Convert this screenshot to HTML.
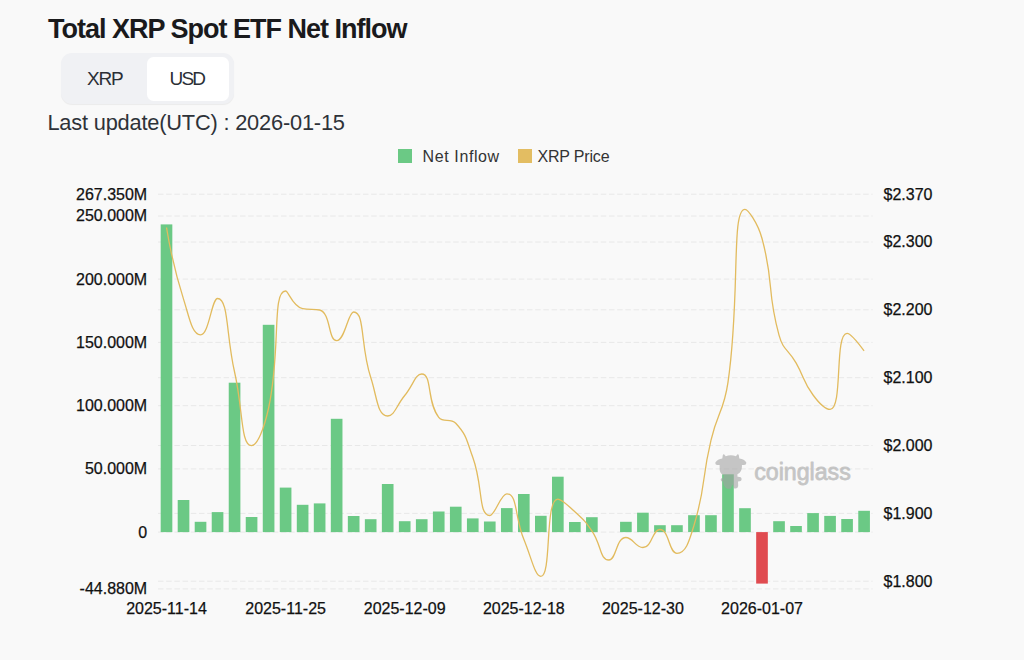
<!DOCTYPE html>
<html><head><meta charset="utf-8">
<style>
html,body{margin:0;padding:0;}
body{width:1024px;height:660px;overflow:hidden;background:#f9f9f9;position:relative;font-family:"Liberation Sans",Arial,sans-serif;}
.title{position:absolute;left:48px;top:11.1px;font-size:27px;font-weight:bold;color:#1a1a1c;white-space:nowrap;line-height:36px;letter-spacing:-1.0px;}
.seg{position:absolute;left:61px;top:53px;width:173px;height:51px;background:#f0f1f4;border-radius:11px;box-shadow:0 1px 1px rgba(0,0,0,0.06);}
.seg .on{position:absolute;left:85.5px;top:4px;width:82.6px;height:44px;background:#fff;border-radius:6.5px;}
.seg span{position:absolute;top:0;line-height:51px;font-size:19px;color:#2b2f36;letter-spacing:-1px;}
.upd{position:absolute;left:47.4px;top:108.7px;font-size:21.8px;color:#2e3238;white-space:nowrap;line-height:28px;letter-spacing:-0.19px;}
.leg{position:absolute;top:146.8px;font-size:16px;color:#333;white-space:nowrap;line-height:20px;}
.sq{position:absolute;top:149px;width:14px;height:14px;}
svg{position:absolute;left:0;top:0;}
</style></head><body>
<div class="title">Total XRP Spot ETF Net Inflow</div>
<div class="seg"><div class="on"></div><span style="left:26px;letter-spacing:-1.2px">XRP</span><span style="left:108.5px;letter-spacing:-1.8px">USD</span></div>
<div class="upd">Last update(UTC) : 2026-01-15</div>
<div class="sq" style="left:398px;background:#6bc985"></div>
<div class="leg" style="left:422.6px;letter-spacing:0.6px">Net Inflow</div>
<div class="sq" style="left:517.5px;background:#e3bd62"></div>
<div class="leg" style="left:537.4px;letter-spacing:-0.17px">XRP Price</div>
<svg width="1024" height="660" viewBox="0 0 1024 660">
<g stroke="#e8e8e8" stroke-width="1" stroke-dasharray="5.5 2.7" fill="none">
<line x1="158" x2="872.6" y1="194.2" y2="194.2"/>
<line x1="158" x2="872.6" y1="216.0" y2="216.0"/>
<line x1="158" x2="872.6" y1="242.0" y2="242.0"/>
<line x1="158" x2="872.6" y1="279.1" y2="279.1"/>
<line x1="158" x2="872.6" y1="309.8" y2="309.8"/>
<line x1="158" x2="872.6" y1="342.4" y2="342.4"/>
<line x1="158" x2="872.6" y1="377.7" y2="377.7"/>
<line x1="158" x2="872.6" y1="405.7" y2="405.7"/>
<line x1="158" x2="872.6" y1="445.5" y2="445.5"/>
<line x1="158" x2="872.6" y1="468.9" y2="468.9"/>
<line x1="158" x2="872.6" y1="513.4" y2="513.4"/>
<line x1="158" x2="872.6" y1="532.1" y2="532.1"/>
<line x1="158" x2="872.6" y1="581.2" y2="581.2"/>
<line x1="158" x2="872.6" y1="588.9" y2="588.9"/>
</g>
<g>
<rect x="160.68" y="224.40" width="11.65" height="307.70" fill="#6bc985"/>
<rect x="177.70" y="500.00" width="11.65" height="32.10" fill="#6bc985"/>
<rect x="194.71" y="521.80" width="11.65" height="10.30" fill="#6bc985"/>
<rect x="211.73" y="512.10" width="11.65" height="20.00" fill="#6bc985"/>
<rect x="228.74" y="382.70" width="11.65" height="149.40" fill="#6bc985"/>
<rect x="245.75" y="517.00" width="11.65" height="15.10" fill="#6bc985"/>
<rect x="262.77" y="324.80" width="11.65" height="207.30" fill="#6bc985"/>
<rect x="279.78" y="487.60" width="11.65" height="44.50" fill="#6bc985"/>
<rect x="296.80" y="504.80" width="11.65" height="27.30" fill="#6bc985"/>
<rect x="313.81" y="503.40" width="11.65" height="28.70" fill="#6bc985"/>
<rect x="330.82" y="418.80" width="11.65" height="113.30" fill="#6bc985"/>
<rect x="347.84" y="516.00" width="11.65" height="16.10" fill="#6bc985"/>
<rect x="364.85" y="519.20" width="11.65" height="12.90" fill="#6bc985"/>
<rect x="381.87" y="484.00" width="11.65" height="48.10" fill="#6bc985"/>
<rect x="398.88" y="521.20" width="11.65" height="10.90" fill="#6bc985"/>
<rect x="415.90" y="519.20" width="11.65" height="12.90" fill="#6bc985"/>
<rect x="432.91" y="511.50" width="11.65" height="20.60" fill="#6bc985"/>
<rect x="449.93" y="506.70" width="11.65" height="25.40" fill="#6bc985"/>
<rect x="466.94" y="518.40" width="11.65" height="13.70" fill="#6bc985"/>
<rect x="483.95" y="521.50" width="11.65" height="10.60" fill="#6bc985"/>
<rect x="500.97" y="508.10" width="11.65" height="24.00" fill="#6bc985"/>
<rect x="517.98" y="494.00" width="11.65" height="38.10" fill="#6bc985"/>
<rect x="535.00" y="515.80" width="11.65" height="16.30" fill="#6bc985"/>
<rect x="552.01" y="476.70" width="11.65" height="55.40" fill="#6bc985"/>
<rect x="569.02" y="522.00" width="11.65" height="10.10" fill="#6bc985"/>
<rect x="586.04" y="517.20" width="11.65" height="14.90" fill="#6bc985"/>
<rect x="620.07" y="521.80" width="11.65" height="10.30" fill="#6bc985"/>
<rect x="637.08" y="512.70" width="11.65" height="19.40" fill="#6bc985"/>
<rect x="654.10" y="525.20" width="11.65" height="6.90" fill="#6bc985"/>
<rect x="671.11" y="525.20" width="11.65" height="6.90" fill="#6bc985"/>
<rect x="688.12" y="515.20" width="11.65" height="16.90" fill="#6bc985"/>
<rect x="705.14" y="515.20" width="11.65" height="16.90" fill="#6bc985"/>
<rect x="722.15" y="474.30" width="11.65" height="57.80" fill="#6bc985"/>
<rect x="739.17" y="508.20" width="11.65" height="23.90" fill="#6bc985"/>
<rect x="756.18" y="532.10" width="11.65" height="51.50" fill="#e04b50"/>
<rect x="773.20" y="521.20" width="11.65" height="10.90" fill="#6bc985"/>
<rect x="790.21" y="526.00" width="11.65" height="6.10" fill="#6bc985"/>
<rect x="807.23" y="513.10" width="11.65" height="19.00" fill="#6bc985"/>
<rect x="824.24" y="515.90" width="11.65" height="16.20" fill="#6bc985"/>
<rect x="841.25" y="519.00" width="11.65" height="13.10" fill="#6bc985"/>
<rect x="858.27" y="510.80" width="11.65" height="21.30" fill="#6bc985"/>
</g>
<path d="M166.51,227.50 C166.51,227.50 172.45,264.20 183.52,299.10 C189.47,317.85 192.09,334.80 200.54,334.80 C209.10,334.80 211.65,298.50 217.55,298.50 C228.66,298.50 226.07,335.25 234.56,372.00 C243.08,408.85 240.58,445.70 251.58,445.70 C257.59,445.70 264.18,428.05 268.59,408.00 C281.20,350.70 271.51,291.00 285.61,291.00 C288.53,291.00 292.60,306.59 302.62,308.60 C309.61,310.00 314.06,308.60 319.64,310.00 C331.07,312.87 327.93,340.60 336.65,340.60 C344.94,340.60 348.04,312.00 353.66,312.00 C365.06,312.00 360.22,345.33 370.68,377.30 C377.23,397.33 377.26,416.00 387.69,416.00 C394.27,416.00 396.32,405.85 404.71,395.50 C413.34,384.85 415.41,374.00 421.72,374.00 C432.43,374.00 426.48,401.83 438.74,417.30 C443.49,423.30 450.27,417.30 455.75,423.30 C467.29,435.94 466.21,439.53 472.76,457.30 C483.22,485.63 478.08,515.50 489.78,515.50 C495.10,515.50 500.62,493.80 506.79,493.80 C517.64,493.80 514.58,516.80 523.81,539.20 C531.59,558.10 535.02,576.40 540.82,576.40 C552.03,576.40 544.41,499.20 557.84,499.20 C561.42,499.20 567.16,504.56 574.85,511.70 C584.17,520.36 584.53,520.40 591.86,530.80 C601.55,544.55 599.60,560.00 608.88,560.00 C616.62,560.00 615.88,537.50 625.89,537.50 C632.90,537.50 635.36,547.50 642.91,547.50 C652.38,547.50 652.12,529.50 659.92,529.50 C669.14,529.50 668.89,553.30 676.94,553.30 C685.90,553.30 689.31,540.91 693.95,525.50 C706.32,484.41 700.93,482.52 710.96,440.30 C717.94,410.92 723.59,412.10 727.98,382.30 C740.60,296.60 730.75,209.30 744.99,209.30 C747.76,209.30 757.65,222.38 762.01,238.50 C774.66,285.33 766.24,288.47 779.02,335.20 C783.25,350.67 788.00,348.78 796.04,362.90 C805.02,378.68 802.51,380.59 813.05,395.00 C819.52,403.84 826.28,409.40 830.06,409.40 C843.30,409.40 834.12,333.30 847.08,333.30 C851.13,333.30 864.09,350.80 864.09,350.80" fill="none" stroke="#e2bb5e" stroke-width="1.3" stroke-linejoin="round"/>
<g opacity="0.6" fill="#a3a3a3">
<path d="M722.3,458.6 L722.8,455.2 Q723.2,453.9 724.3,454.4 L725.7,456.3 Q730.8,454.0 735.9,456.3 L737.3,454.4 Q738.4,453.9 738.8,455.2 L739.3,458.6 Q744.4,459.3 746.3,462.6 Q746.6,465.0 744,465.1 L741.9,465.1 Q742.4,472.2 737.4,474.3 L737.5,476.8 Q741.7,476.6 741.6,479.3 Q741.5,481.4 738,481.6 L738.2,486 Q737.8,488.6 735.4,488.6 L734.3,488.6 L732.4,484.4 L730.7,488.7 L727,488.7 Q724.8,487.6 723.6,484.4 L723.2,481.6 Q720.6,481.6 720.7,479.6 Q720.9,477.7 723.3,478.6 L723.7,475.2 Q720.2,473.8 719.7,470 L719.6,465.1 L717.2,465.1 Q715,464.8 715.4,462.6 Q717.6,459.2 722.3,458.6 Z"/>
<text x="754.2" y="479.5" font-family="Liberation Sans, Arial, sans-serif" font-size="23.5" stroke="#a3a3a3" stroke-width="0.8" stroke-linejoin="round" textLength="96.6" lengthAdjust="spacingAndGlyphs">coinglass</text>
</g>
<g font-family="Liberation Sans, Arial, sans-serif" font-size="16" fill="#111" stroke="#111" stroke-width="0.25" text-anchor="end" dominant-baseline="central">
<text x="147.2" y="194.1">267.350M</text>
<text x="147.2" y="215.9">250.000M</text>
<text x="147.2" y="279.0">200.000M</text>
<text x="147.2" y="342.3">150.000M</text>
<text x="147.2" y="405.6">100.000M</text>
<text x="147.2" y="468.8">50.000M</text>
<text x="147.2" y="532.0">0</text>
<text x="147.2" y="588.8">-44.880M</text>
</g>
<g font-family="Liberation Sans, Arial, sans-serif" font-size="16" fill="#111" stroke="#111" stroke-width="0.25" text-anchor="start" dominant-baseline="central">
<text x="883.5" y="194.1">$2.370</text>
<text x="883.5" y="241.9">$2.300</text>
<text x="883.5" y="309.7">$2.200</text>
<text x="883.5" y="377.6">$2.100</text>
<text x="883.5" y="445.4">$2.000</text>
<text x="883.5" y="513.3">$1.900</text>
<text x="883.5" y="581.1">$1.800</text>
</g>
<g font-family="Liberation Sans, Arial, sans-serif" font-size="16" fill="#111" stroke="#111" stroke-width="0.25" text-anchor="middle">
<text x="166.5" y="614.3">2025-11-14</text>
<text x="285.6" y="614.3">2025-11-25</text>
<text x="404.7" y="614.3">2025-12-09</text>
<text x="523.8" y="614.3">2025-12-18</text>
<text x="642.9" y="614.3">2025-12-30</text>
<text x="762.0" y="614.3">2026-01-07</text>
</g>
</svg>
</body></html>
